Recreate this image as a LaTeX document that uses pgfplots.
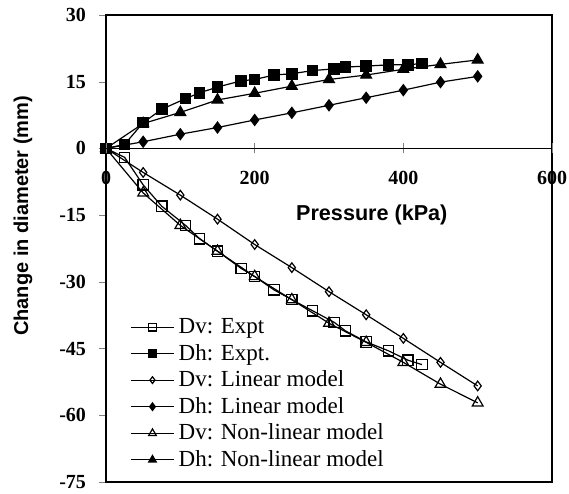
\documentclass[border=0pt]{standalone}
\usepackage{pgfplots}
\pgfplotsset{compat=1.18}
\usetikzlibrary{calc}
\usepackage{fontspec}
\setmainfont{Liberation Serif}
\newfontfamily\arialfont{Liberation Sans}

\pgfplotstableread{
x y
0 0
25 -2.0
50 -8.2
75 -13.0
107 -17.3
126 -20.3
150 -23.1
182 -27.0
200 -28.8
226 -31.8
250 -34.0
278 -36.5
307 -39.1
322 -41.0
350 -43.5
380 -45.5
406 -47.6
425 -48.6
}\dvexpt
\pgfplotstableread{
x y
0 0
25 0.9
50 5.8
75 8.8
107 11.2
126 12.5
150 13.8
182 15.2
200 15.5
226 16.5
250 16.8
278 17.5
307 17.9
322 18.3
350 18.5
380 18.8
406 18.8
425 19.1
}\dhexpt
\pgfplotstableread{
x y
0 0
50 -5.4
100 -10.5
150 -15.9
200 -21.6
250 -26.8
300 -32.2
350 -37.4
400 -42.7
450 -48.1
500 -53.4
}\dvlin
\pgfplotstableread{
x y
0 0
50 1.5
100 3.2
150 4.7
200 6.4
250 8.0
300 9.7
350 11.4
400 13.1
450 14.9
500 16.2
}\dhlin
\pgfplotstableread{
x y
0 0
50 -10.0
100 -17.3
150 -23.1
200 -28.8
250 -34.0
300 -39.3
350 -43.6
400 -48.1
450 -53.0
500 -57.2
}\dvnl
\pgfplotstableread{
x y
0 0
50 5.6
100 8.1
150 10.9
200 12.4
250 14.0
300 15.5
350 16.5
400 17.8
450 18.9
500 19.9
}\dhnl

\begin{document}
\begin{tikzpicture}
\begin{axis}[
  name=ax,
  scale only axis,
  width=223pt, height=233.5pt,
  xmin=0, xmax=600, ymin=-75, ymax=30,
  xtick=\empty,
  ytick={-75,-60,-45,-30,-15,0,15,30},
  ytick pos=left,
  tick align=outside,
  major tick length=3.5pt,
  axis line style={black, line width=0.6pt},
  /pgf/number format/assume math mode=true,
  yticklabel style={font=\fontsize{10}{11}\selectfont\bfseries, xshift=-3pt},
  ylabel={\arialfont\bfseries Change in diameter (mm)},
  ylabel style={font=\fontsize{10}{12}\selectfont, at={(axis description cs:-0.186,0.57)}, anchor=center},
  legend style={at={(axis description cs:0.049,0.364)}, anchor=north west, draw=none, fill=none,
    font=\fontsize{11.5}{13}\selectfont, row sep=-0.2pt, inner sep=1pt},
  legend cell align=left,
  legend image code/.code={\draw[mark repeat=2,mark phase=2,/tikz/every mark/.append style={scale=0.7}] plot coordinates {(0cm,0cm) (0.38cm,0cm) (0.76cm,0cm)};},
  every axis plot/.append style={black, line width=0.6pt},
]
\addplot[mark=square, mark size=2.6pt, mark options={fill=white, solid}] table {\dvexpt};
\addlegendentry{Dv: Expt}
\addplot[mark=square*, mark size=2.6pt, mark options={fill=black}] table {\dhexpt};
\addlegendentry{Dh: Expt.}
\addplot[mark=diamond, mark size=2.4pt, mark options={fill=white}] table {\dvlin};
\addlegendentry{Dv: Linear model}
\addplot[mark=diamond*, mark size=2.7pt, mark options={fill=black}] table {\dhlin};
\addlegendentry{Dh: Linear model}
\addplot[mark=triangle, mark size=3.1pt, mark options={fill=white}] table {\dvnl};
\addlegendentry{Dv: Non-linear model}
\addplot[mark=triangle*, mark size=3.1pt, mark options={fill=black}] table {\dhnl};
\addlegendentry{Dh: Non-linear model}
\end{axis}
\begin{axis}[
  at={(ax.south west)}, anchor=south west,
  scale only axis,
  width=223pt, height=233.5pt,
  xmin=0, xmax=600, ymin=-75, ymax=30,
  axis x line=middle, axis y line=none,
  axis line style={-, black, line width=0.6pt},
  hide obscured x ticks=false,
  xtick={0,200,400,600},
  tick align=center,
  major tick length=5pt,
  /pgf/number format/assume math mode=true,
  xticklabel style={font=\fontsize{10}{11}\selectfont\bfseries, yshift=-5.5pt},
  xlabel={\arialfont\bfseries Pressure (kPa)},
  xlabel style={font=\fontsize{10.8}{12}\selectfont, at={(axis description cs:0.596,0.572)}, anchor=center},
]
\end{axis}
\pgfresetboundingbox
\path ($(ax.south west)+(-53pt,-5.5pt)$) rectangle ($(ax.north east)+(8.5pt,7.5pt)$);
\end{tikzpicture}
\end{document}
